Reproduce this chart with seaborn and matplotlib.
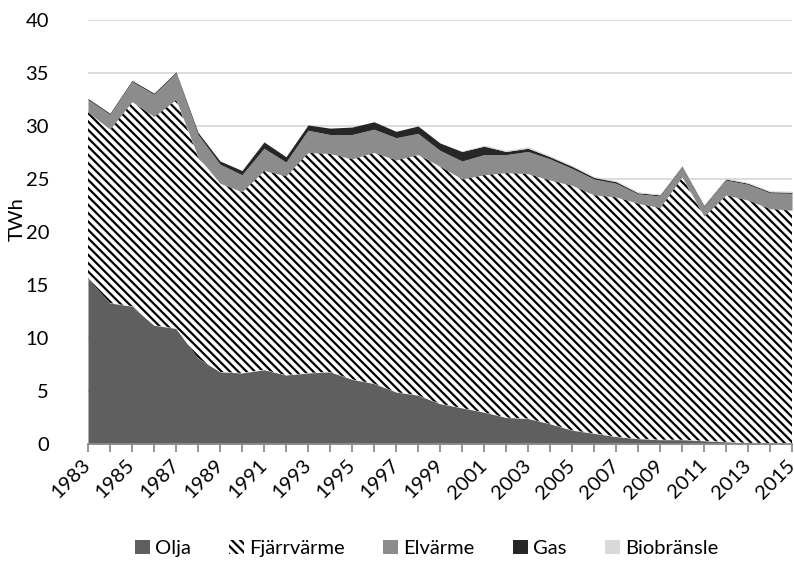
import numpy as np
import matplotlib.pyplot as plt
import matplotlib.transforms as mtransforms
import seaborn as sns
from matplotlib.patches import Patch

# 数据 (TWh)
years = list(range(1983, 2016))
olja = [15.6, 13.3, 13.0, 11.2, 10.9, 8.1, 6.8, 6.7, 7.0, 6.5, 6.7, 6.8, 6.1, 5.7, 4.9, 4.6, 3.8,
        3.4, 3.0, 2.5, 2.4, 1.9, 1.3, 1.0, 0.7, 0.5, 0.4, 0.4, 0.3, 0.2, 0.1, 0.1, 0.05]
fjarrvarme = [15.7, 16.4, 19.3, 19.7, 21.6, 19.0, 17.8, 17.1, 18.8, 18.8, 20.8, 20.6, 20.8, 21.8, 21.9, 22.7, 22.4,
              21.6, 22.4, 23.1, 23.1, 23.0, 23.1, 22.5, 22.6, 22.2, 21.9, 24.8, 21.2, 23.3, 22.9, 22.1, 22.0]
elvarme = [1.2, 1.4, 1.9, 2.1, 2.5, 2.1, 1.8, 1.6, 2.1, 1.3, 2.1, 1.8, 2.3, 2.2, 2.1, 2.0, 1.5,
           1.7, 1.9, 1.7, 2.1, 2.0, 1.6, 1.5, 1.3, 0.9, 1.1, 0.9, 0.9, 1.4, 1.5, 1.5, 1.6]
gas = [0.1, 0.1, 0.1, 0.1, 0.1, 0.2, 0.3, 0.4, 0.6, 0.5, 0.5, 0.6, 0.7, 0.7, 0.6, 0.7, 0.7,
       0.9, 0.8, 0.3, 0.3, 0.2, 0.2, 0.15, 0.15, 0.1, 0.1, 0.1, 0.1, 0.1, 0.1, 0.1, 0.1]
biobransle = [0, 0, 0, 0, 0, 0, 0, 0, 0, 0, 0, 0, 0, 0, 0, 0, 0,
              0.05, 0.1, 0.1, 0.15, 0.1, 0.1, 0.1, 0.1, 0.1, 0.1, 0.1, 0.1, 0.1, 0.1, 0.1, 0.1]
series_names = ['Olja', 'Fjärrvärme', 'Elvärme', 'Gas', 'Biobränsle']
colors = ['#5f5f5f', 'white', '#8c8c8c', '#262626', '#d9d9d9']

sns.set_theme(style='white')
plt.rcParams['font.family'] = ['Lato', 'DejaVu Sans']
plt.rcParams['hatch.linewidth'] = 1.6
plt.rcParams['hatch.color'] = 'black'
plt.rcParams['text.color'] = 'black'
plt.rcParams['xtick.color'] = 'black'
plt.rcParams['ytick.color'] = 'black'
plt.rcParams['axes.labelcolor'] = 'black'

fig = plt.figure(figsize=(7.94, 5.64), dpi=100)
ax = fig.add_axes([0.1108, 0.2128, 0.8867, 0.7517])

polys = ax.stackplot(years, olja, fjarrvarme, elvarme, gas, biobransle,
                     colors=colors, linewidth=0, zorder=2)
polys[1].set_hatch('\\\\\\\\')
polys[1].set_edgecolor('black')
polys[1].set_linewidth(0)

# 坐标轴
ax.set_xlim(1983, 2015)
ax.set_ylim(0, 40)
ax.set_yticks(range(0, 41, 5))
ax.grid(axis='y', color='#d9d9d9', linewidth=1.3, zorder=0)
ax.set_axisbelow(True)
ax.set_xticks(years)
ax.set_xticklabels([str(y) if (y - 1983) % 2 == 0 else '' for y in years],
                   rotation=45, ha='right', rotation_mode='anchor')
ax.tick_params(axis='x', bottom=True, length=6, width=1.3, color='#8c8c8c',
               labelsize=14.5, pad=3)
ax.tick_params(axis='y', left=False, labelsize=14.5, pad=22)
# 标签稍微左移，避免2015被裁切
shift = mtransforms.ScaledTranslation(-6 / 100, 0, fig.dpi_scale_trans)
for lab in ax.get_xticklabels():
    lab.set_transform(lab.get_transform() + shift)
for s in ['top', 'right', 'left']:
    ax.spines[s].set_visible(False)
ax.spines['bottom'].set_color('#8c8c8c')
ax.spines['bottom'].set_linewidth(1.3)
ax.spines['bottom'].set_zorder(3)
ax.set_ylabel('TWh', fontsize=14.5)
ax.yaxis.set_label_coords(-0.088, 0.53)

# 图例
handles = []
for name, c in zip(series_names, colors):
    if name == 'Fjärrvärme':
        handles.append(Patch(facecolor='white', edgecolor='black', hatch='\\\\\\\\', linewidth=0, label=name))
    else:
        handles.append(Patch(facecolor=c, edgecolor='none', label=name))
fig.legend(handles=handles, loc='center', bbox_to_anchor=(0.537, 0.028), ncol=5,
           frameon=False, fontsize=14.5, handlelength=0.75, handleheight=0.75,
           handletextpad=0.25, columnspacing=1.9)

fig.savefig('out.png', dpi=100)
